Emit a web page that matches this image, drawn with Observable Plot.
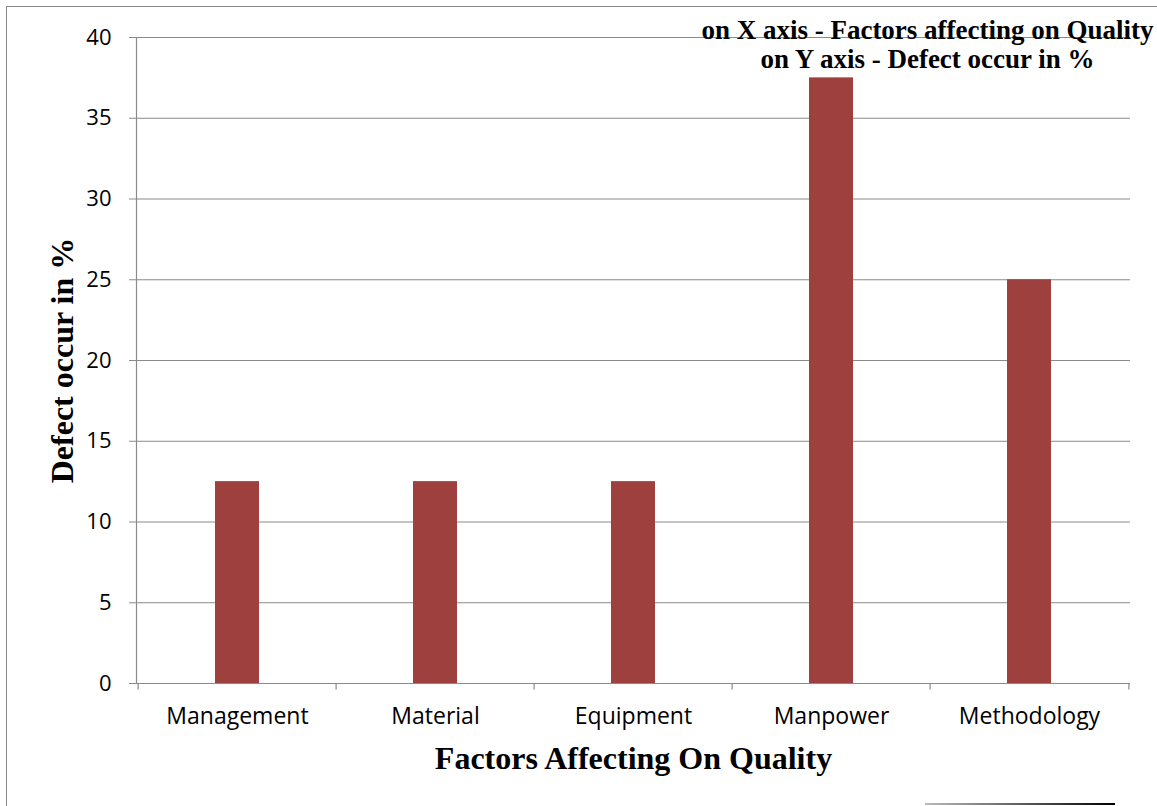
<!DOCTYPE html>
<html>
<head>
<meta charset="utf-8">
<script src="https://cdn.jsdelivr.net/npm/d3@7"></script>
<script src="https://cdn.jsdelivr.net/npm/@observablehq/plot@0.6"></script>
<style>
  html, body { margin: 0; padding: 0; background: #fff; }
  #wrap { position: relative; width: 1157px; height: 806px; overflow: hidden; }
  #border { position: absolute; left: 6px; top: 6px; width: 1300px; height: 900px;
            border-left: 1.5px solid #8a8a8a; border-top: 1.5px solid #8a8a8a; }
  #bline { position: absolute; left: 925px; top: 803px; width: 190px; height: 2px;
           background: linear-gradient(to right, #bbb, #000); }
  #chart { position: absolute; left: 0; top: 0; }
</style>
</head>
<body>
<div id="wrap">
  <div id="border"></div>
  <div id="bline"></div>
  <div id="chart"></div>
</div>
<script>
const categories = ["Management", "Material", "Equipment", "Manpower", "Methodology"];
const defectPercent = [12.5, 12.5, 12.5, 37.5, 25];
const yTicks = [0, 5, 10, 15, 20, 25, 30, 35, 40];
const titleLines = ["on X axis - Factors affecting on Quality", "on Y axis - Defect occur in %"];
const xTitle = "Factors Affecting On Quality";
const yTitle = "Defect occur in %";

const data = categories.map((c, i) => ({category: c, value: defectPercent[i]}));

const W = 1157, H = 806;
const mL = 136, mR = 27, mT = 37, mB = 123;
const step = (W - mL - mR) / categories.length;
const grid = "#8a8a8a";
const serif = "'Liberation Serif', 'Times New Roman', serif";
const sans = "'Open Sans', 'Noto Sans', sans-serif";

const chart = Plot.plot({
  width: W,
  height: H,
  marginLeft: mL,
  marginRight: mR,
  marginTop: mT,
  marginBottom: mB,
  style: {background: "transparent", color: "#000", fontFamily: sans},
  x: {domain: categories, paddingInner: 0.78, paddingOuter: 0.39},
  y: {domain: [0, 40]},
  marks: [
    Plot.ruleY(yTicks, {stroke: grid, strokeWidth: 1.2}),
    Plot.frame({anchor: "left", stroke: grid, strokeWidth: 1.2}),
    Plot.barY(data, {x: "category", y: "value", fill: "#9e403e"}),
    Plot.ruleX(categories, {x: d => d, dx: -step / 2, y1: 0, y2: -0.4, stroke: grid, strokeWidth: 1.2}),
    Plot.ruleX(categories.slice(-1), {x: d => d, dx: step / 2, y1: 0, y2: -0.4, stroke: grid, strokeWidth: 1.2}),
    Plot.axisY({ticks: yTicks, tickSize: 7, tickPadding: 18, stroke: grid, fontSize: 22, fontFamily: sans, label: null, tickFormat: d => String(d)}),
    Plot.axisX({tickSize: 0, tickPadding: 24, fontSize: 23, fontFamily: sans, label: null}),
    Plot.text([xTitle], {frameAnchor: "bottom", dy: 85, text: d => d, fontSize: 32, fontWeight: "bold", fontFamily: serif, fill: "#000"}),
    Plot.text([yTitle], {frameAnchor: "left", textAnchor: "middle", dx: -74, rotate: -90, text: d => d, fontSize: 32, fontWeight: "bold", fontFamily: serif, fill: "#000"}),
    Plot.text([titleLines[0]], {frameAnchor: "top", dx: 294, dy: -18, text: d => d, fontSize: 27, fontWeight: "bold", fontFamily: serif, fill: "#000"}),
    Plot.text([titleLines[1]], {frameAnchor: "top", dx: 294, dy: 11, text: d => d, fontSize: 27, fontWeight: "bold", fontFamily: serif, fill: "#000"})
  ]
});
document.getElementById("chart").appendChild(chart);
</script>
</body>
</html>
